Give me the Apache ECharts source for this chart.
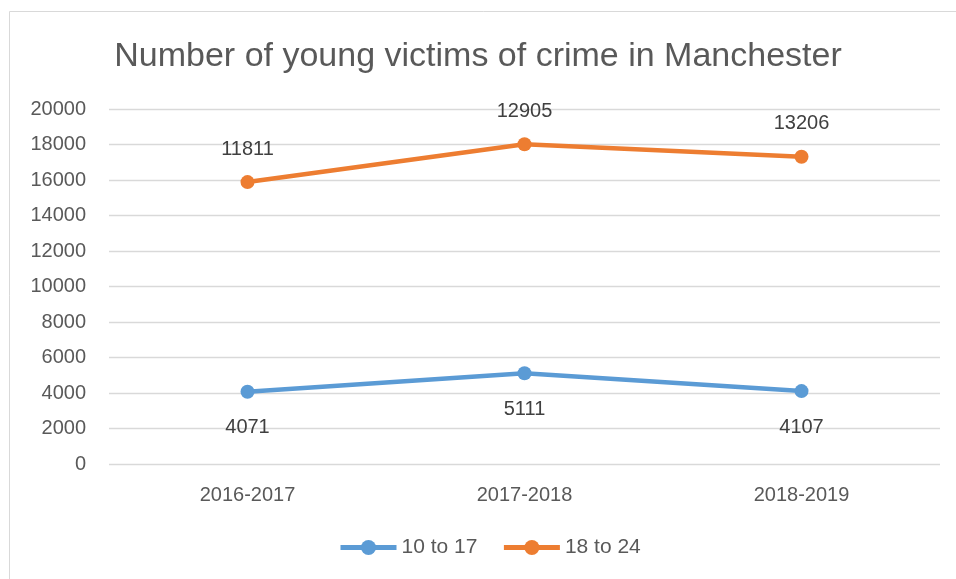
<!DOCTYPE html>
<html>
<head>
<meta charset="utf-8">
<script src="https://cdn.jsdelivr.net/npm/echarts@6/dist/echarts.min.js"></script>
<style>
	html, body { margin: 0; padding: 0; background: #fff; }
	#chart { width: 956px; height: 579px; }
</style>
</head>
<body>
<div id="chart"></div>
<script>
	// data
	var years = [ '2016-2017', '2017-2018', '2018-2019' ];
	var youngTeens = [ 4071, 5111, 4107 ];
	var youngAdults = [ 11811, 12905, 13206 ];
	var yTicks = { min : 0, max : 20000, interval : 2000 };

	var font = 'Liberation Sans';
	var myChart = echarts.init(document.getElementById('chart'));
	var option = {
		color : [ '#5b9bd5', '#ed7d31' ],
		textStyle : { fontFamily : font },
		graphic : [ {
			type : 'rect',
			shape : { x : 9.5, y : 11.5, width : 960, height : 600 },
			style : { fill : 'none', stroke : '#d9d9d9', lineWidth : 1 },
			silent : true
		} ],
		title : {
			text : 'Number of young victims of crime in Manchester',
			left : 'center',
			top : 35,
			textStyle : { fontFamily : font, fontSize : 34, fontWeight : 'normal', color : '#595959' }
		},
		grid : { left : 109, right : 16, top : 109, bottom : 115 },
		legend : {
			bottom : 16,
			left : 333,
			itemWidth : 56,
			itemHeight : 19,
			itemGap : 24,
			lineStyle : { width : 5 },
			textStyle : { fontFamily : font, fontSize : 21, color : '#595959' },
			data : [ '10 to 17', '18 to 24' ]
		},
		xAxis : {
			type : 'category',
			data : years,
			axisLine : { show : false },
			axisTick : { show : false },
			axisLabel : { fontSize : 20, color : '#595959', margin : 21 }
		},
		yAxis : {
			type : 'value',
			min : yTicks.min,
			max : yTicks.max,
			interval : yTicks.interval,
			axisLabel : {
				fontSize : 20, color : '#595959', margin : 23,
				formatter : function(v) { return String(v); }
			},
			splitLine : { lineStyle : { color : '#d9d9d9', width : 1.3 } }
		},
		series : [ {
			name : '10 to 17',
			type : 'line',
			stack : 'total',
			data : youngTeens,
			symbol : 'circle',
			symbolSize : 14,
			lineStyle : { width : 4.5 },
			label : { show : true, position : 'bottom', distance : 19, fontSize : 20, color : '#404040' }
		}, {
			name : '18 to 24',
			type : 'line',
			stack : 'total',
			data : youngAdults,
			symbol : 'circle',
			symbolSize : 14,
			lineStyle : { width : 4.5 },
			label : { show : true, position : 'top', distance : 16, fontSize : 20, color : '#404040' }
		} ]
	};
	myChart.setOption(option);
</script>
</body>
</html>
